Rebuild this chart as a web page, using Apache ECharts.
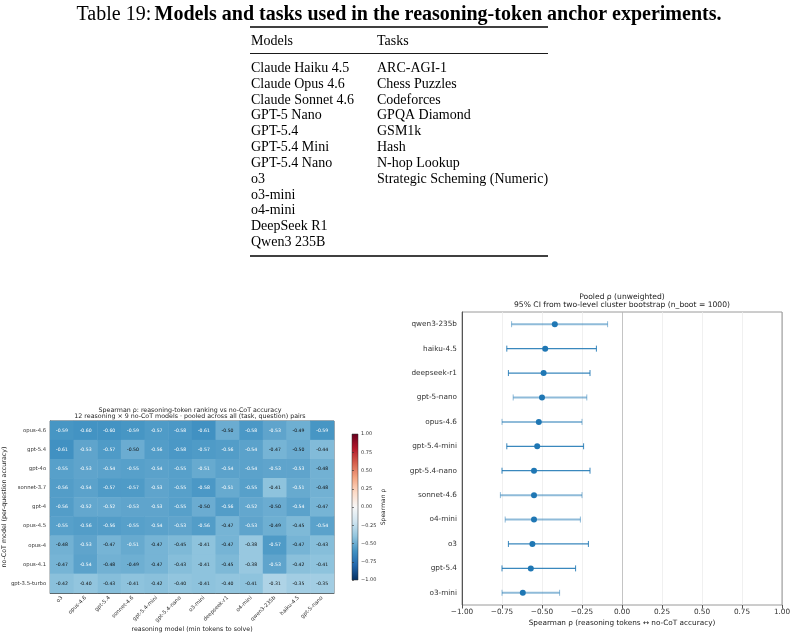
<!DOCTYPE html>
<html><head><meta charset="utf-8">
<script src="https://cdn.jsdelivr.net/npm/echarts@6/dist/echarts.min.js"></script>
<style>html,body{margin:0;padding:0;background:#fff}#c{width:795px;height:633px}</style>
</head><body><div id="c"></div>
<script>
// ---------- Table data ----------
const tableModels = ['Claude Haiku 4.5','Claude Opus 4.6','Claude Sonnet 4.6','GPT-5 Nano','GPT-5.4','GPT-5.4 Mini','GPT-5.4 Nano','o3','o3-mini','o4-mini','DeepSeek R1','Qwen3 235B'];
const tableTasks = ['ARC-AGI-1','Chess Puzzles','Codeforces','GPQA Diamond','GSM1k','Hash','N-hop Lookup','Strategic Scheming (Numeric)'];

// ---------- Heatmap data ----------
const reasoningModels = ['o3','opus-4.6','gpt-5.4','sonnet-4.6','gpt-5.4-mini','gpt-5.4-nano','o3-mini','deepseek-r1','o4-mini','qwen3-235b','haiku-4.5','gpt-5-nano'];
const noCotModels = ['opus-4.6','gpt-5.4','gpt-4o','sonnet-3.7','gpt-4','opus-4.5','opus-4','opus-4.1','gpt-3.5-turbo'];
const rhoMatrix = [
  [-0.59,-0.60,-0.60,-0.59,-0.57,-0.58,-0.61,-0.50,-0.58,-0.53,-0.49,-0.59],
  [-0.61,-0.53,-0.57,-0.50,-0.56,-0.58,-0.57,-0.56,-0.54,-0.47,-0.50,-0.44],
  [-0.55,-0.53,-0.54,-0.55,-0.54,-0.55,-0.51,-0.54,-0.54,-0.53,-0.53,-0.48],
  [-0.56,-0.54,-0.57,-0.57,-0.53,-0.55,-0.58,-0.51,-0.55,-0.41,-0.51,-0.48],
  [-0.56,-0.52,-0.52,-0.53,-0.53,-0.55,-0.50,-0.56,-0.52,-0.50,-0.54,-0.47],
  [-0.55,-0.56,-0.56,-0.55,-0.54,-0.53,-0.56,-0.47,-0.53,-0.49,-0.45,-0.54],
  [-0.48,-0.53,-0.47,-0.51,-0.47,-0.45,-0.41,-0.47,-0.38,-0.57,-0.47,-0.43],
  [-0.47,-0.54,-0.48,-0.49,-0.47,-0.43,-0.41,-0.45,-0.38,-0.53,-0.42,-0.41],
  [-0.42,-0.40,-0.43,-0.41,-0.42,-0.40,-0.41,-0.40,-0.41,-0.31,-0.35,-0.35]
];

// ---------- Forest plot data ----------
const forestModels = ['qwen3-235b','haiku-4.5','deepseek-r1','gpt-5-nano','opus-4.6','gpt-5.4-mini','gpt-5.4-nano','sonnet-4.6','o4-mini','o3','gpt-5.4','o3-mini'];
const pooledRho = [-0.42,-0.48,-0.49,-0.50,-0.52,-0.53,-0.55,-0.55,-0.55,-0.56,-0.57,-0.62];
const ciLow     = [-0.69,-0.72,-0.71,-0.68,-0.75,-0.72,-0.75,-0.76,-0.73,-0.71,-0.75,-0.75];
const ciHigh    = [-0.09,-0.16,-0.20,-0.22,-0.25,-0.24,-0.20,-0.25,-0.26,-0.21,-0.29,-0.39];
const ciFaded   = [1,0,0,1,1,0,0,1,1,0,0,1];

// ---------- build ----------
const FONT = 'DejaVu Sans';
const SERIF = '"Liberation Serif","Times New Roman",serif';
const minus = v => (v < 0 ? '\u2212' : '') + Math.abs(v).toFixed(2);
const rdbuR = ['#053061','#2166ac','#4393c3','#92c5de','#d1e5f0','#f7f7f7','#fddbc7','#f4a582','#d6604d','#b2182b','#67001f'];

const heatData = [];
rhoMatrix.forEach((row, r) => row.forEach((v, c) => {
  heatData.push({value: [c, r, v], label: {color: v < -0.5 ? '#ffffff' : '#111111'}});
}));

const graphics = [];
graphics.push({type:'text', x:399, y:14.5, style:{
  text:'{n|Table 19:} {b|Models and tasks used in the reasoning-token anchor experiments.}',
  align:'center', verticalAlign:'middle',
  rich:{n:{fontFamily:SERIF, fontSize:20, fill:'#000'}, b:{fontFamily:SERIF, fontSize:20, fontWeight:'bold', fill:'#000'}}
}});
graphics.push({type:'line', shape:{x1:250, y1:27, x2:548, y2:27}, style:{stroke:'#000', lineWidth:1.5}});
graphics.push({type:'line', shape:{x1:250, y1:53.5, x2:548, y2:53.5}, style:{stroke:'#000', lineWidth:0.9}});
graphics.push({type:'line', shape:{x1:250, y1:256, x2:548, y2:256}, style:{stroke:'#000', lineWidth:1.5}});
graphics.push({type:'text', x:251, y:41, style:{text:'Models', fontFamily:SERIF, fontSize:14, fill:'#000', verticalAlign:'middle'}});
graphics.push({type:'text', x:377, y:41, style:{text:'Tasks', fontFamily:SERIF, fontSize:14, fill:'#000', verticalAlign:'middle'}});
tableModels.forEach((m, i) => graphics.push({type:'text', x:251, y:68.3 + i*15.82, style:{text:m, fontFamily:SERIF, fontSize:14, fill:'#000', verticalAlign:'middle'}}));
tableTasks.forEach((t, i) => graphics.push({type:'text', x:377, y:68.3 + i*15.82, style:{text:t, fontFamily:SERIF, fontSize:14, fill:'#000', verticalAlign:'middle'}}));
graphics.push({type:'text', x:190, y:410.5, style:{text:'Spearman \u03c1: reasoning-token ranking vs no-CoT accuracy', fontFamily:FONT, fontSize:6.3, fill:'#222', align:'center', verticalAlign:'middle'}});
graphics.push({type:'text', x:190, y:416.5, style:{text:'12 reasoning \u00d7 9 no-CoT models \u00b7 pooled across all (task, question) pairs', fontFamily:FONT, fontSize:6.3, fill:'#222', align:'center', verticalAlign:'middle'}});
graphics.push({type:'text', x:622, y:297.5, style:{text:'Pooled \u03c1 (unweighted)', fontFamily:FONT, fontSize:7.6, fill:'#222', align:'center', verticalAlign:'middle'}});
graphics.push({type:'text', x:622, y:305.5, style:{text:'95% CI from two-level cluster bootstrap (n_boot = 1000)', fontFamily:FONT, fontSize:7.6, fill:'#222', align:'center', verticalAlign:'middle'}});

const gradStops = rdbuR.slice().reverse().map((c, i) => ({offset: i/(rdbuR.length-1), color: c}));

const option = {
  animation: false,
  backgroundColor: '#fff',
  textStyle: {fontFamily: FONT},
  graphic: graphics,
  grid: [
    {left:46, top:421, width:288, height:172, show:true, borderColor:'#333', borderWidth:0.8, backgroundColor:'transparent'},
    {left:352, top:434, width:6, height:146, show:true, borderColor:'#333', borderWidth:0.5,
     backgroundColor:{type:'linear', x:0, y:0, x2:0, y2:1, colorStops: gradStops}},
    {left:462, top:312, width:320, height:293, show:true, borderColor:'#9a9a9a', borderWidth:1, backgroundColor:'transparent'}
  ],
  visualMap: [{type:'continuous', show:false, seriesIndex:0, min:-1, max:1, inRange:{color: rdbuR}}],
  xAxis: [
    {gridIndex:0, type:'category', data:reasoningModels,
     axisLine:{lineStyle:{color:'#333', width:0.8}},
     axisTick:{alignWithLabel:true, length:3, lineStyle:{color:'#333', width:0.6}},
     axisLabel:{rotate:45, fontSize:5.3, color:'#333', margin:4, interval:0},
     splitLine:{show:false},
     name:'reasoning model (min tokens to solve)', nameLocation:'middle', nameGap:31,
     nameTextStyle:{fontSize:6.3, color:'#222'}},
    {gridIndex:1, type:'value', show:false, min:0, max:1},
    {gridIndex:2, type:'value', min:-1, max:1, interval:0.25,
     axisLine:{onZero:false, lineStyle:{color:'#555', width:1}},
     axisTick:{show:true, length:3.5, lineStyle:{color:'#555'}},
     axisLabel:{formatter: minus, fontSize:7.3, color:'#333', margin:4},
     splitLine:{show:true, lineStyle:{color:['#ececec','#ececec','#ececec','#ececec','#b5b5b5','#ececec','#ececec','#ececec','#b5b5b5'], width:0.8}},
     name:'Spearman \u03c1 (reasoning tokens \u2194 no-CoT accuracy)', nameLocation:'middle', nameGap:15,
     nameTextStyle:{fontSize:7.3, color:'#222'}}
  ],
  yAxis: [
    {gridIndex:0, type:'category', data:noCotModels, inverse:true,
     axisLine:{lineStyle:{color:'#333', width:0.8}},
     axisTick:{alignWithLabel:true, length:3, lineStyle:{color:'#333', width:0.6}},
     axisLabel:{fontSize:5.3, color:'#333', margin:4, interval:0},
     splitLine:{show:false},
     name:'no-CoT model (per-question accuracy)', nameLocation:'middle', nameGap:36, nameRotate:90,
     nameTextStyle:{fontSize:6.3, color:'#222'}},
    {gridIndex:1, type:'value', min:-1, max:1, interval:0.25, position:'right',
     axisLine:{show:false},
     axisTick:{show:true, length:2, lineStyle:{color:'#333', width:0.6}},
     axisLabel:{formatter: minus, fontSize:5, color:'#333', margin:3},
     splitLine:{show:false},
     name:'Spearman \u03c1', nameLocation:'middle', nameGap:21, nameRotate:90,
     nameTextStyle:{fontSize:6, color:'#222'}},
    {gridIndex:2, type:'category', data:forestModels, inverse:true,
     axisLine:{onZero:false, lineStyle:{color:'#555', width:1}},
     axisTick:{alignWithLabel:true, length:3.5, lineStyle:{color:'#555'}},
     axisLabel:{fontSize:7.3, color:'#333', margin:5, interval:0},
     splitLine:{show:false}}
  ],
  series: [
    {type:'heatmap', xAxisIndex:0, yAxisIndex:0, data:heatData,
     label:{show:true, fontSize:4.6, fontFamily:FONT, formatter: p => p.value[2].toFixed(2)},
     itemStyle:{borderWidth:0}, emphasis:{disabled:true}},
    {type:'custom', xAxisIndex:2, yAxisIndex:2,
     data: forestModels.map((m, i) => [ciLow[i], ciHigh[i], i, ciFaded[i]]),
     encode:{x:[0,1], y:2},
     renderItem: function(params, api) {
       const yi = api.value(2);
       const p1 = api.coord([api.value(0), yi]);
       const p2 = api.coord([api.value(1), yi]);
       const faded = api.value(3) === 1;
       const col = faded ? 'rgba(31,119,180,0.5)' : 'rgba(31,119,180,0.88)';
       const lw = faded ? 2 : 1.3;
       const cap = 3;
       return {type:'group', children:[
         {type:'line', shape:{x1:p1[0], y1:p1[1], x2:p2[0], y2:p2[1]}, style:{stroke:col, lineWidth:lw}},
         {type:'line', shape:{x1:p1[0], y1:p1[1]-cap, x2:p1[0], y2:p1[1]+cap}, style:{stroke:col, lineWidth:1}},
         {type:'line', shape:{x1:p2[0], y1:p2[1]-cap, x2:p2[0], y2:p2[1]+cap}, style:{stroke:col, lineWidth:1}}
       ]};
     }},
    {type:'scatter', xAxisIndex:2, yAxisIndex:2,
     data: forestModels.map((m, i) => [pooledRho[i], i]),
     symbol:'circle', symbolSize:6, itemStyle:{color:'#1f77b4', opacity:1}, z:5}
  ]
};
const chart = echarts.init(document.getElementById('c'), null, {renderer:'canvas'});
chart.setOption(option);
</script></body></html>
